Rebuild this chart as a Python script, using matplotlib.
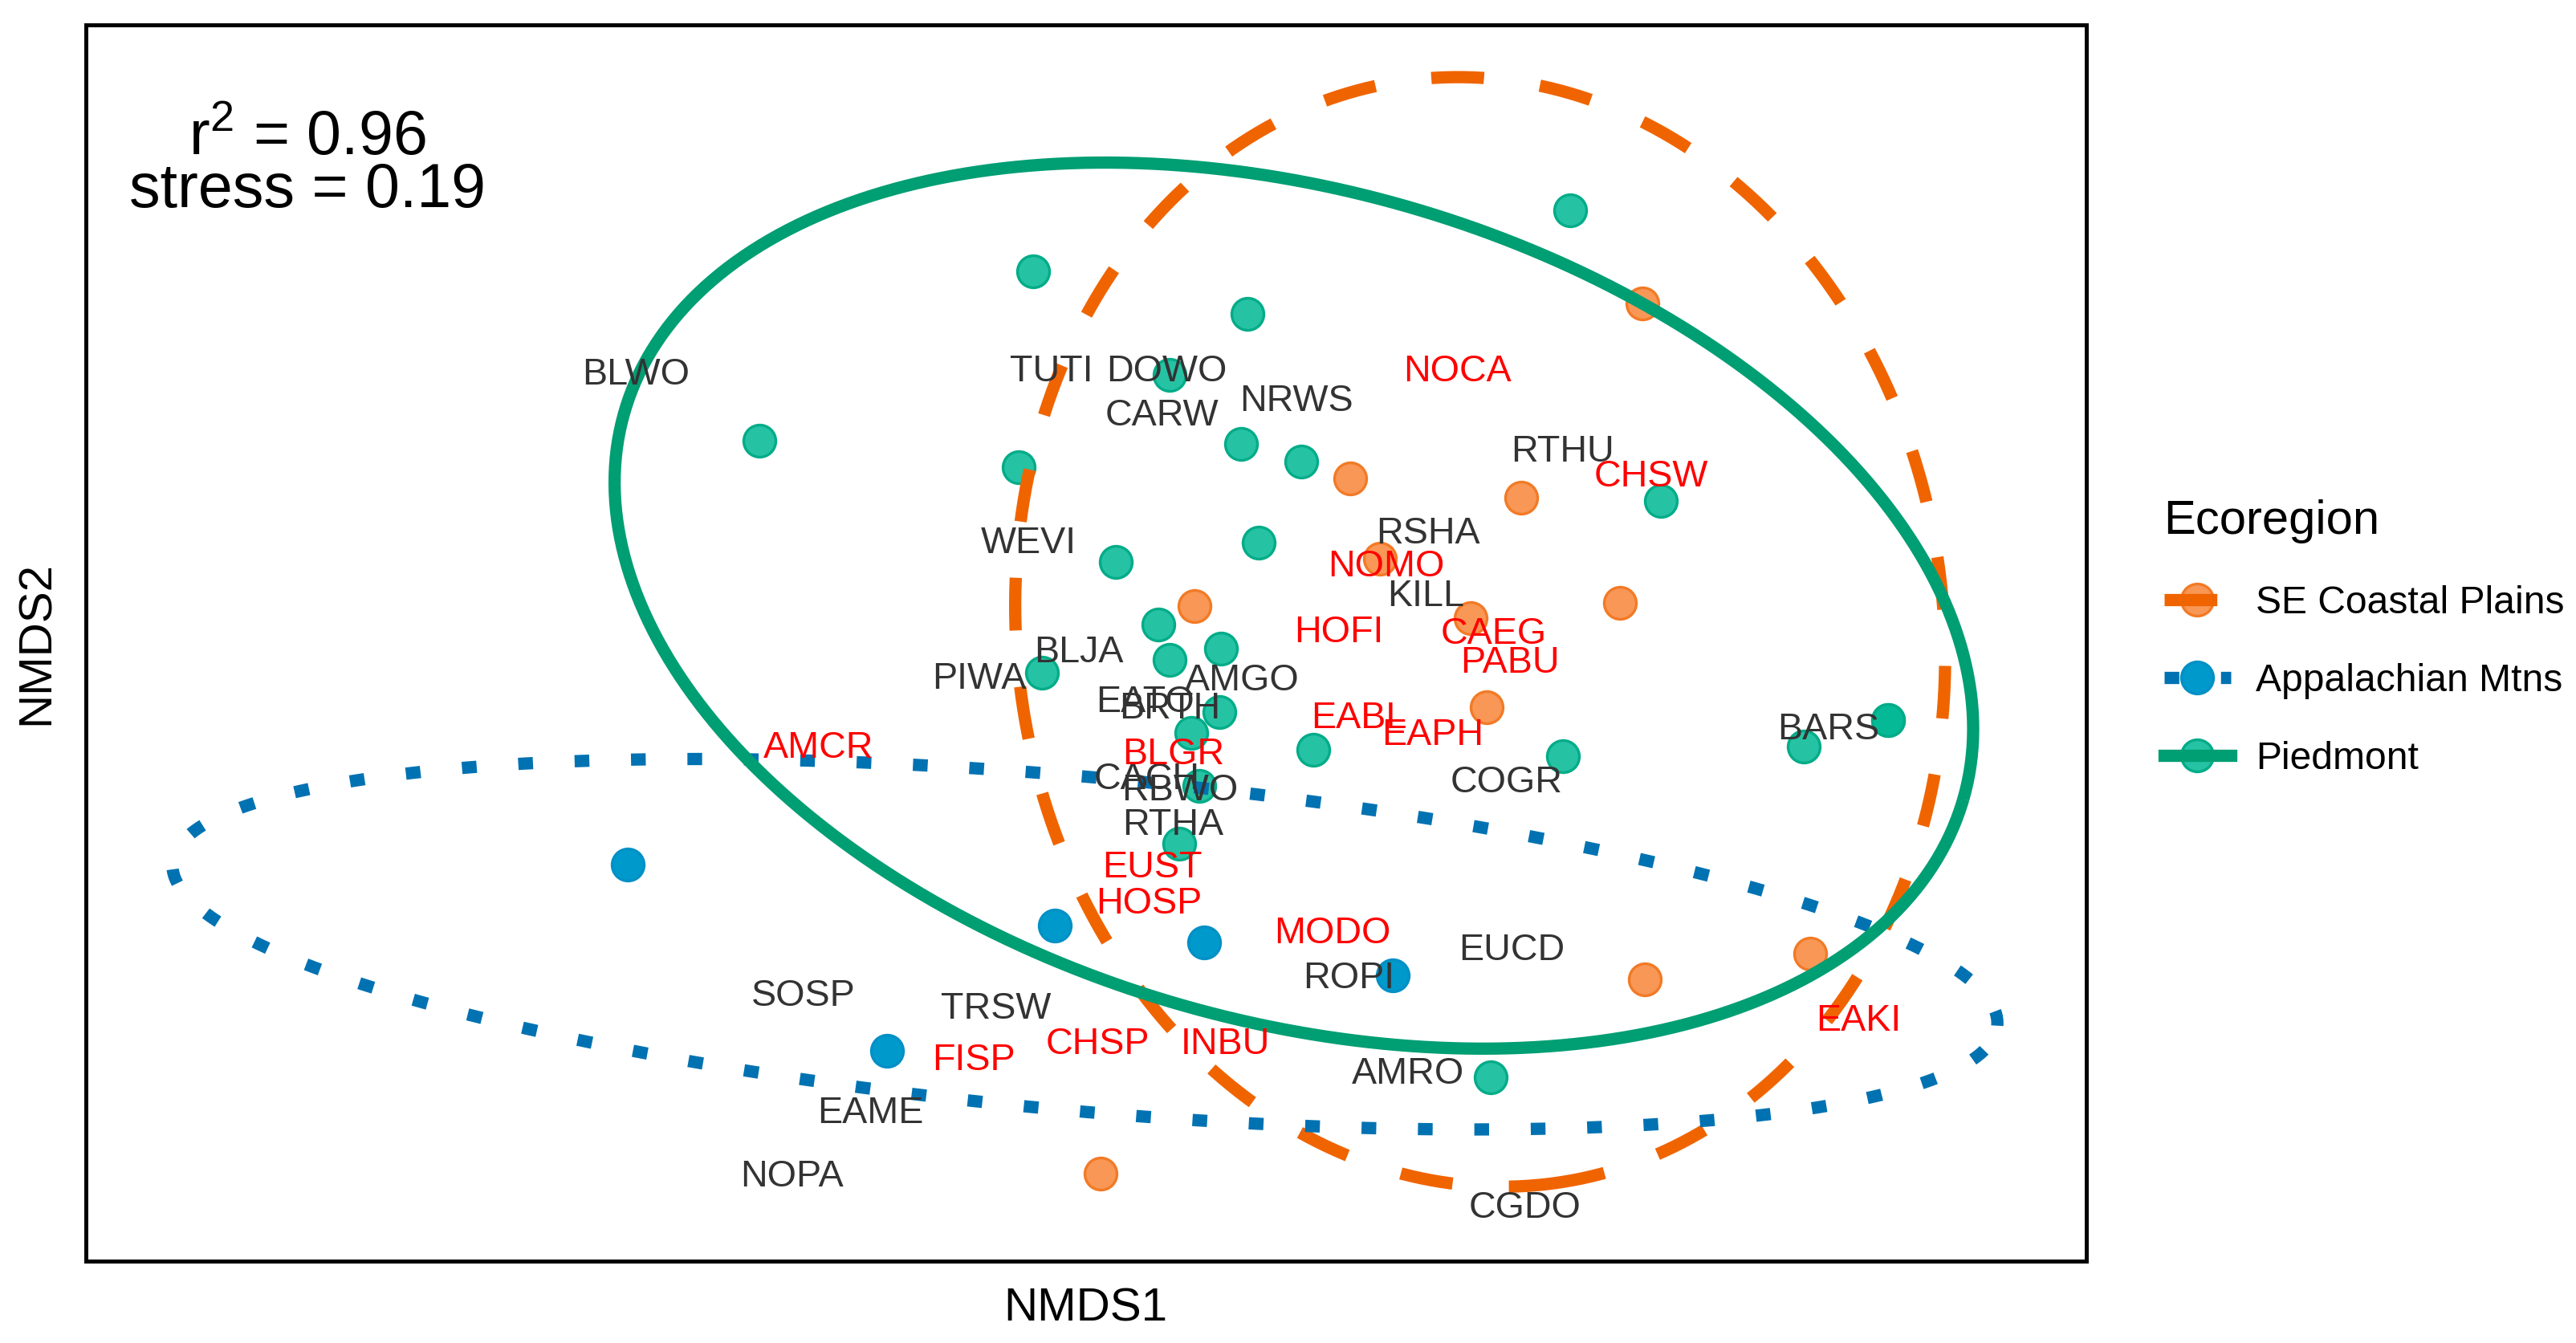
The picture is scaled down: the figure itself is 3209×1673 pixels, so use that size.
# NMDS ordination of bird communities by ecoregion
import numpy as np
import matplotlib.pyplot as plt
from matplotlib.lines import Line2D

plt.rcParams['font.family'] = ['Liberation Sans', 'DejaVu Sans']
plt.rcParams['mathtext.fontset'] = 'custom'
plt.rcParams['mathtext.rm'] = 'Liberation Sans'

# site scores (NMDS1, NMDS2) by ecoregion
coast_x = [0.850, 0.405, 0.665, 0.168, 0.450, 0.588, 0.815, 0.613, 0.853, 1.105, 0.025]
coast_y = [0.538, 0.273, 0.243, 0.078, 0.150, 0.060, 0.083, -0.075, -0.490, -0.450, -0.785]

app_x = [-0.695, -0.045, 0.183, 0.470, -0.300]
app_y = [-0.315, -0.408, -0.433, -0.483, -0.598]

pied_x = [-0.495, -0.078, 0.248, 0.740, 0.130, 0.238, 0.330, -0.100, 0.265, 0.048,
          0.878, 0.113, 0.208, 0.130, -0.065, 0.205, 0.163, 0.348, 0.728, 1.095,
          1.223, 1.223, 0.175, 0.145, 0.618]
pied_y = [0.330, 0.588, 0.523, 0.680, 0.430, 0.325, 0.298, 0.290, 0.175, 0.145,
          0.238, 0.050, 0.013, -0.003, -0.023, -0.083, -0.115, -0.140, -0.150, -0.135,
          -0.095, -0.095, -0.195, -0.283, -0.638]

# species scores
sp_names = ['BLWO', 'TUTI', 'DOWO', 'CARW', 'NRWS', 'RTHU', 'WEVI', 'RSHA', 'KILL',
            'BLJA', 'PIWA', 'AMGO', 'EATO', 'BRTH', 'CACH', 'RBWO', 'RTHA', 'BARS',
            'COGR', 'EUCD', 'ROPI', 'SOSP', 'TRSW', 'EAME', 'NOPA', 'AMRO', 'CGDO']
sp_x = [-0.683, -0.050, 0.125, 0.118, 0.323, 0.728, -0.085, 0.523, 0.520,
        -0.008, -0.160, 0.240, 0.093, 0.130, 0.095, 0.145, 0.135, 1.133,
        0.643, 0.650, 0.403, -0.428, -0.135, -0.325, -0.445, 0.493, 0.670]
sp_y = [0.435, 0.440, 0.440, 0.373, 0.395, 0.318, 0.178, 0.193, 0.098,
        0.013, -0.028, -0.030, -0.063, -0.073, -0.180, -0.198, -0.250, -0.105,
        -0.185, -0.440, -0.483, -0.510, -0.530, -0.688, -0.785, -0.628, -0.833]

# introduced / urban-associated species (red labels)
urb_names = ['NOCA', 'CHSW', 'NOMO', 'HOFI', 'CAEG', 'PABU', 'AMCR', 'EABL', 'EAPH',
             'BLGR', 'EUST', 'HOSP', 'MODO', 'FISP', 'CHSP', 'INBU', 'EAKI']
urb_x = [0.568, 0.863, 0.460, 0.388, 0.623, 0.648, -0.405, 0.418, 0.530,
         0.135, 0.103, 0.098, 0.378, -0.168, 0.020, 0.215, 1.178]
urb_y = [0.440, 0.280, 0.143, 0.043, 0.040, -0.003, -0.133, -0.088, -0.113,
         -0.143, -0.315, -0.370, -0.415, -0.608, -0.583, -0.583, -0.548]

# 95% ellipses: centre x, centre y, semi axis a, semi axis b, angle (deg)
coast_ell = [0.6025, 0.039, 0.846, 0.705, -82.5]
app_ell = [0.001, -0.436, 1.394, 0.254, -5.1]
pied_ell = [0.319, 0.079, 1.0605, 0.631, -16.1]


def ellipse_path(cx, cy, a, b, ang):
    t = np.linspace(0, 2 * np.pi, 600)
    th = np.radians(ang)
    ex = cx + a * np.cos(t) * np.cos(th) - b * np.sin(t) * np.sin(th)
    ey = cy + a * np.cos(t) * np.sin(th) + b * np.sin(t) * np.cos(th)
    return ex, ey


groups = [
    ('SE Coastal Plains', coast_x, coast_y, coast_ell, '#F06400', (0.97, 0.52, 0.22, 0.85), '#F27A26', (0, (4.3, 4.6))),
    ('Appalachian Mtns', app_x, app_y, app_ell, '#0072B2', (0.0, 0.60, 0.80, 1.0), '#0090C6', (0, (1.2, 3.4))),
    ('Piedmont', pied_x, pied_y, pied_ell, '#009E73', (0.0, 0.72, 0.58, 0.85), '#00AC88', '-'),
]

fig = plt.figure(figsize=(16.045, 8.365), dpi=200)
ax = fig.add_axes([0.0332, 0.0612, 0.7767, 0.9204])

lw = 5.5
ms = 14.4
handles = []
for name, gx, gy, ell, lcol, pcol, ecol, ls in groups:
    ax.plot(gx, gy, 'o', ms=ms, mfc=pcol, mec=ecol, mew=1.2, zorder=2)
    ex, ey = ellipse_path(*ell)
    ax.plot(ex, ey, color=lcol, lw=lw, ls=ls, dash_capstyle='butt',
            solid_capstyle='butt', zorder=3)
    pt = Line2D([], [], ls='none', marker='o', ms=ms, mfc=pcol, mec=ecol, mew=1.2)
    ln = Line2D([], [], color=lcol, lw=lw, ls=ls, dash_capstyle='butt')
    handles.append((pt, ln))

# labels sit a hair lower than the bbox centre
dy = -0.005
for n, x, y in zip(sp_names, sp_x, sp_y):
    ax.text(x, y + dy, n, color='#333333', fontsize=16.8, ha='center', va='center', zorder=4)
for n, x, y in zip(urb_names, urb_x, urb_y):
    ax.text(x, y + dy, n, color='#FF0000', fontsize=16.8, ha='center', va='center', zorder=4)

ax.text(-1.1825, 0.79, 'r$^{2}$ = 0.96', fontsize=27.8, ha='center', va='center')
ax.text(-1.1825, 0.71, 'stress = 0.19', fontsize=27.8, ha='center', va='center')

ax.set_xlim(-1.52, 1.525)
ax.set_ylim(-0.9175, 0.9625)
ax.set_xticks([])
ax.set_yticks([])
for s in ax.spines.values():
    s.set_linewidth(1.8)
ax.set_xlabel('NMDS1', fontsize=21, labelpad=12)
ax.set_ylabel('NMDS2', fontsize=21, labelpad=12)

leg = ax.legend(handles, [g[0] for g in groups], title='Ecoregion',
                loc='center left', bbox_to_anchor=(0.840, 0.525),
                bbox_transform=fig.transFigure, frameon=False,
                fontsize=17.3, title_fontsize=21.5, handlelength=1.74,
                handletextpad=0.65, labelspacing=1.08, borderpad=0,
                borderaxespad=0)
leg._legend_box.align = 'left'

fig.savefig('out.png', dpi=200)
